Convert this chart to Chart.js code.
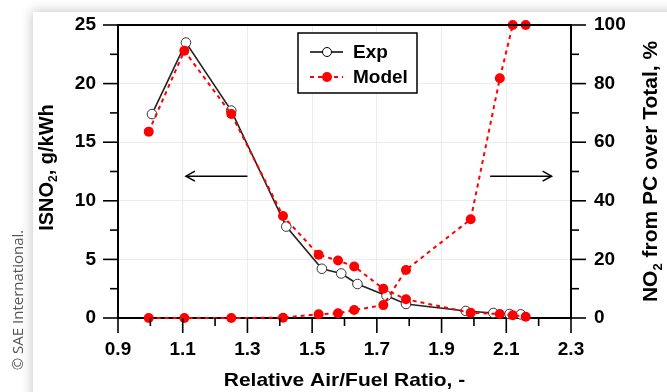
<!DOCTYPE html>
<html>
<head>
<meta charset="utf-8">
<script src="https://cdn.jsdelivr.net/npm/chart.js@4/dist/chart.umd.min.js"></script>
<style>
  html,body{margin:0;padding:0;background:#fff;width:667px;height:392px;overflow:hidden;}
  #card{position:absolute;left:33px;top:12px;width:720px;height:440px;background:#fff;box-shadow:-1px -1px 11px rgba(0,0,0,0.22);}
  #c{position:absolute;left:0;top:0;}
</style>
</head>
<body>
<div id="card"></div>
<canvas id="c" width="667" height="392"></canvas>
<script>
// ---- data ----
const expX   = [1.005, 1.11, 1.25, 1.42, 1.53, 1.59, 1.64, 1.73, 1.79, 1.975, 2.06, 2.11, 2.145];
const expISNO2 = [17.4, 23.5, 17.7, 7.8, 4.2, 3.8, 2.9, 1.9, 1.2, 0.6, 0.43, 0.34, 0.31];
const modelX = [0.995, 1.105, 1.25, 1.41, 1.52, 1.58, 1.63, 1.72, 1.79, 1.99, 2.08, 2.12, 2.16];
const modelISNO2 = [15.9, 22.8, 17.4, 8.7, 5.4, 4.9, 4.4, 2.5, 1.6, 0.45, 0.34, 0.23, 0.11];
const modelPC = [0, 0, 0, 0.1, 1.3, 1.6, 2.7, 4.4, 16.4, 33.7, 81.8, 100, 100];
const xTickVals = [0.9, 1.1, 1.3, 1.5, 1.7, 1.9, 2.1, 2.3];
const xMinorVals = [1.0, 1.2, 1.4, 1.6, 1.8, 2.0, 2.2];
const yTickVals = [0, 5, 10, 15, 20, 25];
const yMinorVals = [2.5, 7.5, 12.5, 17.5, 22.5];
const y1TickVals = [0, 20, 40, 60, 80, 100];
const y1MinorVals = [10, 30, 50, 70, 90];
const legendLabels = ['Exp', 'Model'];
const xTitle = 'Relative Air/Fuel Ratio, -';
const copyright = '\u00A9 SAE International.';
// arrow annotations (data coordinates)
const arrowLeft  = {x0: 1.30, x1: 1.11, y: 12.1};
const arrowRight = {x0: 2.05, x1: 2.24, y: 12.1};

const BOLD = '"Liberation Sans", Arial, sans-serif';
const tickFont = {family: BOLD, size: 19, weight: 'bold'};

const decor = {
  id: 'decor',
  afterDraw(chart) {
    const ctx = chart.ctx;
    const ca = chart.chartArea;
    const sx = chart.scales.x, sy = chart.scales.y, sy1 = chart.scales.y1;
    ctx.save();
    // top frame
    ctx.strokeStyle = '#000';
    ctx.lineWidth = 2;
    ctx.beginPath();
    ctx.moveTo(ca.left - 1, ca.top);
    ctx.lineTo(ca.right + 1, ca.top);
    ctx.stroke();
    // tick marks
    ctx.lineWidth = 1.6;
    const tick = (x0, y0, x1, y1) => { ctx.beginPath(); ctx.moveTo(x0, y0); ctx.lineTo(x1, y1); ctx.stroke(); };
    xTickVals.forEach(v => { const p = sx.getPixelForValue(v); tick(p, ca.bottom, p, ca.bottom + 15); });
    xMinorVals.forEach(v => { const p = sx.getPixelForValue(v); tick(p, ca.bottom, p, ca.bottom + 8); });
    yTickVals.forEach(v => { const p = sy.getPixelForValue(v); tick(ca.left - 15, p, ca.left, p); });
    yMinorVals.forEach(v => { const p = sy.getPixelForValue(v); tick(ca.left - 8, p, ca.left, p); });
    y1TickVals.forEach(v => { const p = sy1.getPixelForValue(v); tick(ca.right, p, ca.right + 15, p); });
    y1MinorVals.forEach(v => { const p = sy1.getPixelForValue(v); tick(ca.right, p, ca.right + 8, p); });

    // arrows
    ctx.lineWidth = 1.5;
    const arrow = (a) => {
      const xa = sx.getPixelForValue(a.x0), xb = sx.getPixelForValue(a.x1), yy = sy.getPixelForValue(a.y);
      const dir = xb > xa ? 1 : -1;
      tick(xa, yy, xb, yy);
      ctx.beginPath();
      ctx.moveTo(xb - dir * 9, yy - 5);
      ctx.lineTo(xb, yy);
      ctx.lineTo(xb - dir * 9, yy + 5);
      ctx.stroke();
    };
    arrow(arrowLeft);
    arrow(arrowRight);

    // legend box
    const lx = ca.left + 180, ly = ca.top + 8, lw = 119, lh = 60;
    ctx.fillStyle = '#fff';
    ctx.fillRect(lx, ly, lw, lh);
    ctx.strokeStyle = '#000';
    ctx.lineWidth = 1.5;
    ctx.strokeRect(lx, ly, lw, lh);
    const r1 = ly + 19, r2 = ly + 44;
    // Exp entry
    ctx.lineWidth = 1.5;
    tick(lx + 12, r1, lx + 45, r1);
    ctx.beginPath(); ctx.arc(lx + 29, r1, 4.5, 0, Math.PI * 2);
    ctx.fillStyle = '#fff'; ctx.fill(); ctx.lineWidth = 1; ctx.stroke();
    // Model entry
    ctx.strokeStyle = '#ff0000'; ctx.lineWidth = 2; ctx.setLineDash([4, 4]);
    tick(lx + 12, r2, lx + 45, r2);
    ctx.setLineDash([]);
    ctx.beginPath(); ctx.arc(lx + 29, r2, 5, 0, Math.PI * 2);
    ctx.fillStyle = '#ff0000'; ctx.fill();
    ctx.fillStyle = '#000';
    ctx.font = 'bold 19px ' + BOLD;
    ctx.textAlign = 'left'; ctx.textBaseline = 'middle';
    ctx.fillText(legendLabels[0], lx + 55, r1 + 1);
    ctx.fillText(legendLabels[1], lx + 55, r2 + 1);

    // x title
    ctx.save();
    ctx.translate((ca.left + ca.right) / 2, 386);
    ctx.scale(1, 0.87);
    ctx.font = 'bold 21px ' + BOLD;
    ctx.textAlign = 'center'; ctx.textBaseline = 'alphabetic';
    ctx.fillText(xTitle, 0, 0);
    ctx.restore();

    // rotated titles with subscript
    const subTitle = (cx, cy, base, sub, rest, size) => {
      ctx.save();
      ctx.translate(cx, cy);
      ctx.rotate(-Math.PI / 2);
      ctx.textBaseline = 'alphabetic'; ctx.textAlign = 'left';
      const f1 = 'bold ' + size + 'px ' + BOLD;
      const f2 = 'bold ' + Math.round(size * 0.62) + 'px ' + BOLD;
      ctx.font = f1; const w1 = ctx.measureText(base).width; const w3 = ctx.measureText(rest).width;
      ctx.font = f2; const w2 = ctx.measureText(sub).width;
      const total = w1 + w2 + w3;
      let x = -total / 2;
      ctx.font = f1; ctx.fillText(base, x, 0); x += w1;
      ctx.font = f2; ctx.fillText(sub, x, size * 0.22); x += w2;
      ctx.font = f1; ctx.fillText(rest, x, 0);
      ctx.restore();
    };
    ctx.fillStyle = '#000';
    subTitle(53, (ca.top + ca.bottom) / 2 - 4, 'ISNO', '2', ', g/kWh', 20);
    subTitle(657, (ca.top + ca.bottom) / 2, 'NO', '2', ' from PC over Total, %', 21);

    // copyright
    ctx.save();
    ctx.translate(23, 300);
    ctx.rotate(-Math.PI / 2);
    ctx.font = '15px "Open Sans", sans-serif';
    ctx.fillStyle = '#555';
    ctx.textAlign = 'center'; ctx.textBaseline = 'alphabetic';
    ctx.fillText(copyright, 0, 0);
    ctx.restore();

    ctx.restore();
  }
};

const toXY = (xs, ys) => xs.map((x, i) => ({x: x, y: ys[i]}));
const redStyle = {
  borderColor: '#ff0000', backgroundColor: '#ff0000', borderWidth: 2, borderDash: [4, 4],
  pointRadius: 5, pointBackgroundColor: '#ff0000', pointBorderColor: '#ff0000', pointBorderWidth: 0,
  showLine: true, tension: 0, clip: false, order: 0
};
const noPad = s => { s.paddingTop = 0; s.paddingBottom = 0; s.paddingLeft = 0; s.paddingRight = 0; };

new Chart(document.getElementById('c'), {
  type: 'scatter',
  data: {
    datasets: [
      Object.assign({label: 'Model', data: toXY(modelX, modelISNO2), yAxisID: 'y'}, redStyle),
      Object.assign({label: 'Model PC', data: toXY(modelX, modelPC), yAxisID: 'y1'}, redStyle),
      {label: 'Exp', data: toXY(expX, expISNO2), yAxisID: 'y', borderColor: '#222', borderWidth: 1.6,
       pointRadius: 4.8, pointBackgroundColor: '#fff', pointBorderColor: '#333', pointBorderWidth: 1,
       showLine: true, tension: 0, clip: false, order: 1}
    ]
  },
  options: {
    responsive: false, animation: false, devicePixelRatio: 1,
    layout: {padding: {top: 25, left: 0, right: 0, bottom: 0}, autoPadding: false},
    plugins: {legend: {display: false}, tooltip: {enabled: false}},
    events: [],
    scales: {
      x: {
        type: 'linear', position: 'bottom', min: 0.9, max: 2.3,
        afterBuildTicks: s => { s.ticks = xTickVals.map(v => ({value: v})); },
        ticks: {font: tickFont, color: '#000', padding: 20, maxRotation: 0, autoSkip: false,
                callback: v => Number(v).toFixed(1)},
        grid: {color: '#ececec', lineWidth: 1, drawTicks: false},
        border: {color: '#000', width: 2},
        afterFit: s => { s.height = 74; noPad(s); }
      },
      y: {
        type: 'linear', position: 'left', min: 0, max: 25,
        afterBuildTicks: s => { s.ticks = yTickVals.map(v => ({value: v})); },
        ticks: {font: tickFont, color: '#000', padding: 22},
        grid: {color: '#ececec', lineWidth: 1, drawTicks: false},
        border: {color: '#000', width: 2},
        afterFit: s => { s.width = 118; noPad(s); }
      },
      y1: {
        type: 'linear', position: 'right', min: 0, max: 100,
        afterBuildTicks: s => { s.ticks = y1TickVals.map(v => ({value: v})); },
        ticks: {font: tickFont, color: '#000', padding: 23},
        grid: {display: false, drawTicks: false},
        border: {color: '#000', width: 2},
        afterFit: s => { s.width = 96; noPad(s); }
      }
    }
  },
  plugins: [decor]
});
</script>
</body>
</html>
